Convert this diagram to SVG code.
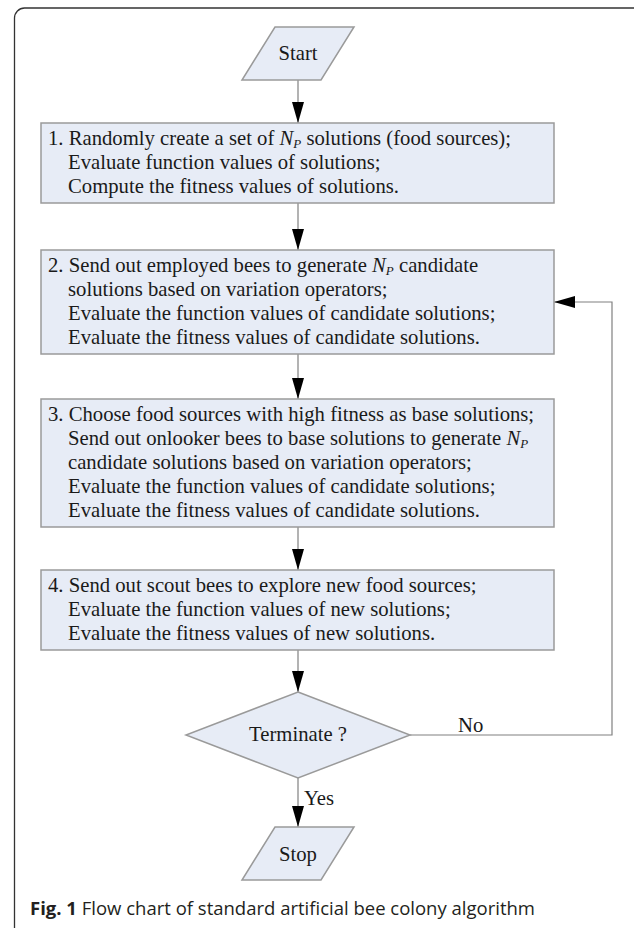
<svg xmlns="http://www.w3.org/2000/svg" width="634" height="928" viewBox="0 0 634 928">
  <style>
    .box { fill: #e7ecf6; stroke: #9a9a9a; stroke-width: 1.5; }
    .t { font-family: "Liberation Serif", "Times New Roman", serif; font-size: 20.7px; fill: #1a1a1a; }
    .mid { text-anchor: middle; }
    .sub { font-size: 13px; font-style: italic; }
    .it { font-style: italic; }
    .conn { fill: none; stroke: #808080; stroke-width: 1.2; }
    .cap { font-family: "Open Sans", "Noto Sans", sans-serif; font-size: 18.5px; fill: #231f20; }
  </style>
  <defs>
    <marker id="ah" viewBox="0 0 21 12" refX="21" refY="6" markerWidth="21" markerHeight="12" markerUnits="userSpaceOnUse" orient="auto">
      <path d="M0,0 L21,6 L0,12 Z" fill="#000"/>
    </marker>
  </defs>

  <path id="frame" d="M14.5,928 V18 A10,10 0 0 1 24.5,8 H634" fill="none" stroke="#333" stroke-width="1.3"/>

  <g id="connectors">
    <line class="conn" x1="298" y1="80" x2="298" y2="123" marker-end="url(#ah)"/>
    <line class="conn" x1="298" y1="203" x2="298" y2="250" marker-end="url(#ah)"/>
    <line class="conn" x1="298" y1="354" x2="298" y2="399" marker-end="url(#ah)"/>
    <line class="conn" x1="298" y1="527" x2="298" y2="570" marker-end="url(#ah)"/>
    <line class="conn" x1="298" y1="650" x2="298" y2="692" marker-end="url(#ah)"/>
    <line class="conn" x1="298" y1="778" x2="298" y2="827" marker-end="url(#ah)"/>
    <path class="conn" d="M410,735 H612 V302 H554" marker-end="url(#ah)"/>
    <text class="t" x="458" y="732">No</text>
    <text class="t" x="304" y="805">Yes</text>
  </g>

  <g id="start">
    <polygon class="box" points="275,27 354,27 321,80 242,80"/>
    <text class="t mid" x="298" y="60">Start</text>
  </g>

  <g id="step1">
    <rect class="box" x="41" y="123" width="513" height="80"/>
    <text class="t" x="48" y="145">1. Randomly create a set of <tspan class="it">N</tspan><tspan class="sub" dy="3">P</tspan><tspan dy="-3"> solutions (food sources);</tspan></text>
    <text class="t" x="68" y="169">Evaluate function values of solutions;</text>
    <text class="t" x="68" y="193">Compute the fitness values of solutions.</text>
  </g>

  <g id="step2">
    <rect class="box" x="41" y="250" width="513" height="104"/>
    <text class="t" x="48" y="272">2. Send out employed bees to generate <tspan class="it">N</tspan><tspan class="sub" dy="3">P</tspan><tspan dy="-3"> candidate</tspan></text>
    <text class="t" x="68" y="296">solutions based on variation operators;</text>
    <text class="t" x="68" y="320">Evaluate the function values of candidate solutions;</text>
    <text class="t" x="68" y="344">Evaluate the fitness values of candidate solutions.</text>
  </g>

  <g id="step3">
    <rect class="box" x="41" y="399" width="513" height="128"/>
    <text class="t" x="48" y="421">3. Choose food sources with high fitness as base solutions;</text>
    <text class="t" x="68" y="445">Send out onlooker bees to base solutions to generate <tspan class="it">N</tspan><tspan class="sub" dy="3">P</tspan></text>
    <text class="t" x="68" y="469">candidate solutions based on variation operators;</text>
    <text class="t" x="68" y="493">Evaluate the function values of candidate solutions;</text>
    <text class="t" x="68" y="517">Evaluate the fitness values of candidate solutions.</text>
  </g>

  <g id="step4">
    <rect class="box" x="41" y="570" width="513" height="80"/>
    <text class="t" x="48" y="592">4. Send out scout bees to explore new food sources;</text>
    <text class="t" x="68" y="616">Evaluate the function values of new solutions;</text>
    <text class="t" x="68" y="640">Evaluate the fitness values of new solutions.</text>
  </g>

  <g id="terminate">
    <polygon class="box" points="298,692 410,735 298,778 186,735"/>
    <text class="t mid" x="298" y="741">Terminate ?</text>
  </g>

  <g id="stop">
    <polygon class="box" points="275,827 354,827 321,880 242,880"/>
    <text class="t mid" x="298" y="861">Stop</text>
  </g>

  <text class="cap" x="30" y="915"><tspan font-weight="bold">Fig. 1</tspan> Flow chart of standard artificial bee colony algorithm</text>
</svg>
